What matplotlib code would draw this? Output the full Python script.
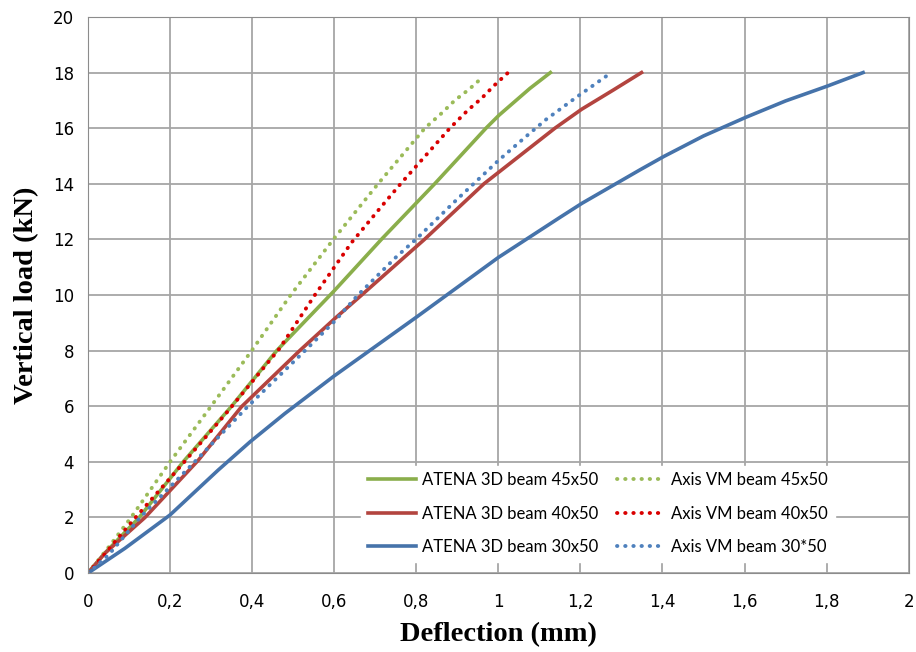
import matplotlib
matplotlib.use("Agg")
import matplotlib.pyplot as plt
from matplotlib.ticker import FuncFormatter

# ATENA 3D results (solid lines)
atena45_x = [0, 0.04, 0.125, 0.232, 0.35, 0.46, 0.60, 0.715, 0.845, 0.97, 1.002, 1.077, 1.127]
atena45_y = [0, 0.7, 2, 4, 6, 8, 10.15, 12, 14, 16, 16.47, 17.43, 18]
atena40_x = [0, 0.041, 0.139, 0.269, 0.374, 0.516, 0.602, 0.667, 0.82, 0.965, 1.138, 1.203, 1.28, 1.349]
atena40_y = [0, 0.71, 2, 4.06, 5.98, 8, 9.16, 10, 12, 14, 16, 16.68, 17.37, 18]
atena30_x = [0, 0.09, 0.2, 0.317, 0.395, 0.48, 0.6, 0.8, 1.0, 1.15, 1.204, 1.345, 1.403, 1.5, 1.603, 1.7, 1.803, 1.889]
atena30_y = [0, 0.89, 2.09, 3.7, 4.72, 5.74, 7.09, 9.2, 11.35, 12.79, 13.3, 14.5, 14.98, 15.72, 16.39, 16.98, 17.52, 18]

# Axis VM results (dotted lines)
axis45_x = [0, 0.054, 0.105, 0.2, 0.3, 0.399, 0.494, 0.598, 0.707, 0.821, 0.862, 0.894, 0.929, 0.963]
axis45_y = [0, 1.0, 2, 4, 6, 8, 10, 12, 14, 16, 16.54, 17.0, 17.4, 17.85]
axis40_x = [0, 0.05, 0.116, 0.235, 0.338, 0.466, 0.553, 0.642, 0.715, 0.762, 0.882, 0.926, 0.959, 0.991, 1.024]
axis40_y = [0, 0.85, 2, 4, 5.77, 8.06, 10, 11.88, 13.18, 14, 16, 16.65, 17.07, 17.55, 18]
axis30_x = [0, 0.05, 0.127, 0.26, 0.39, 0.529, 0.6, 0.658, 0.752, 0.802, 0.898, 1.002, 1.065, 1.117, 1.19, 1.264]
axis30_y = [0, 0.65, 2, 4, 6, 8, 9.04, 10, 11.38, 12.04, 13.42, 14.86, 15.67, 16.32, 17.11, 17.88]

xticks = [0, 0.2, 0.4, 0.6, 0.8, 1.0, 1.2, 1.4, 1.6, 1.8, 2.0]
yticks = [0, 2, 4, 6, 8, 10, 12, 14, 16, 18, 20]

fig = plt.figure(figsize=(9.16, 6.52), dpi=100)
ax = fig.add_axes([0.096, 0.121, 0.896, 0.853])

dot = (0, (0.1, 2.0))
ax.plot(atena45_x, atena45_y, color='#8aae4b', lw=2.6, label='ATENA 3D beam 45x50')
ax.plot(atena40_x, atena40_y, color='#b3443f', lw=2.6, label='ATENA 3D beam 40x50')
ax.plot(atena30_x, atena30_y, color='#4673aa', lw=2.6, label='ATENA 3D beam 30x50')
ax.plot(axis45_x, axis45_y, color='#9bbb59', lw=2.8, ls=dot, dash_capstyle='round', label='Axis VM beam 45x50')
ax.plot(axis40_x, axis40_y, color='#d90000', lw=2.8, ls=dot, dash_capstyle='round', label='Axis VM beam 40x50')
ax.plot(axis30_x, axis30_y, color='#4f81bd', lw=2.8, ls=dot, dash_capstyle='round', label='Axis VM beam 30*50')

ax.set_xlim(0, 2)
ax.set_ylim(0, 20)
ax.set_xticks(xticks)
ax.set_yticks(yticks)
ax.xaxis.set_major_formatter(FuncFormatter(lambda v, p: ('%g' % v).replace('.', ',')))
ax.grid(True, color='#a6a6a6', lw=1.3)
ax.set_axisbelow(True)
for s in ax.spines.values():
    s.set_color('#8c8c8c')
ax.tick_params(axis='y', length=0, pad=10, labelsize=12)
ax.tick_params(axis='x', length=0, pad=14, labelsize=12)
for lab in ax.get_xticklabels() + ax.get_yticklabels():
    lab.set_family(['Liberation Sans Narrow', 'DejaVu Sans'])

ax.set_xlabel('Deflection (mm)', family='Liberation Serif', fontweight='bold', fontsize=20.5, labelpad=8)
ax.set_ylabel('Vertical load (kN)', family='Liberation Serif', fontweight='bold', fontsize=20.5, labelpad=10)

leg = ax.legend(loc='lower right', bbox_to_anchor=(0.91, 0.02), ncol=2, frameon=True, fancybox=False,
                edgecolor='white', framealpha=1, prop={'family': 'Lato', 'size': 12}, handlelength=2.9,
                columnspacing=1.15, labelspacing=1.05, borderaxespad=0.0, handletextpad=0.35)

plt.savefig('out.png', dpi=100)
